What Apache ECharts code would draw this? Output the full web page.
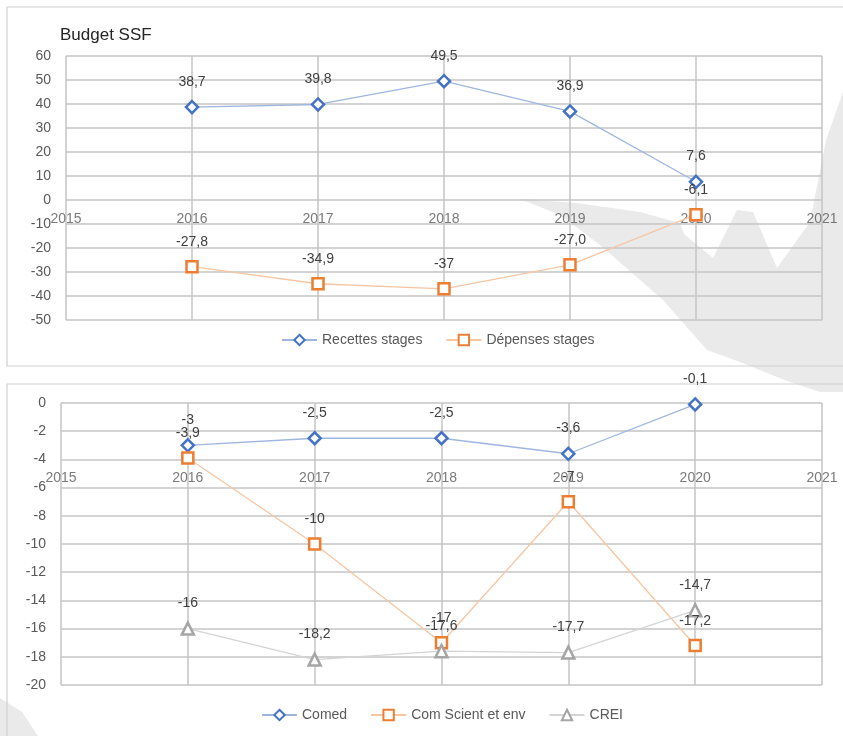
<!DOCTYPE html>
<html>
<head>
<meta charset="utf-8">
<script src="https://cdn.jsdelivr.net/npm/echarts@6/dist/echarts.min.js"></script>
<style>
html,body{margin:0;padding:0;background:#fff;}
#c{width:843px;height:736px;}
</style>
</head>
<body>
<div id="c"></div>
<script>
// ---- data ----
const years = [2016, 2017, 2018, 2019, 2020];
const xTicks = [2015, 2016, 2017, 2018, 2019, 2020, 2021];
const topAxisCross = 0;      // value where the top chart's year axis crosses
const bottomAxisCross = -4;  // value where the bottom chart's year axis crosses

const recettesStages = [38.7, 39.8, 49.5, 36.9, 7.6];
const recettesLabels = ['38,7', '39,8', '49,5', '36,9', '7,6'];
const depensesStages = [-27.8, -34.9, -37, -27.0, -6.1];
const depensesLabels = ['-27,8', '-34,9', '-37', '-27,0', '-6,1'];

const comed = [-3, -2.5, -2.5, -3.6, -0.1];
const comedLabels = ['-3', '-2,5', '-2,5', '-3,6', '-0,1'];
const comScient = [-3.9, -10, -17, -7, -17.2];
const comScientLabels = ['-3,9', '-10', '-17', '-7', '-17,2'];
const crei = [-16, -18.2, -17.6, -17.7, -14.7];
const creiLabels = ['-16', '-18,2', '-17,6', '-17,7', '-14,7'];

const topTitle = 'Budget SSF';
const topNames = ['Recettes stages', 'Dépenses stages'];
const bottomNames = ['Comed', 'Com Scient et env', 'CREI'];

// ---- helpers ----
const FONT = '"Liberation Sans", Arial, sans-serif';
const GRID_C = '#c4c4c4';
const LABEL_C = '#595959';
const pairs = arr => years.map((y, i) => [y, arr[i]]);

function mkSeries(name, vals, texts, symbol, color, lineColor, xi, yi, size) {
  return {
    name: name, type: 'line', xAxisIndex: xi, yAxisIndex: yi,
    data: pairs(vals),
    symbol: symbol, symbolSize: size, showAllSymbol: true,
    itemStyle: { color: '#fff', borderColor: color, borderWidth: 2.5 },
    lineStyle: { color: lineColor, width: 1.3 },
    label: {
      show: true, position: 'top', distance: 11,
      color: '#404040', fontSize: 14, fontFamily: FONT,
      formatter: p => texts[p.dataIndex]
    },
    emphasis: { disabled: true },
    animation: false, z: 3
  };
}
function yearLabels(xi, yi, cross) {
  return {
    type: 'scatter', xAxisIndex: xi, yAxisIndex: yi, silent: true,
    data: xTicks.map(t => [t, cross]),
    symbolSize: 0,
    label: { show: true, position: 'bottom', distance: 12, color: LABEL_C, fontSize: 14, fontFamily: FONT,
      formatter: p => String(p.value[0]) },
    emphasis: { disabled: true }, animation: false, z: 2
  };
}

const diamond = 'path://M0,-1 L1,0 L0,1 L-1,0 Z';
const BLUE = '#4472C4', BLUE_L = '#9fb6e0';
const ORANGE = '#ED7D31', ORANGE_L = '#f6c6a4';
const GREY = '#A5A5A5', GREY_L = '#d4d4d4';

function xAxisCfg(gridIndex) {
  return {
    type: 'value', gridIndex: gridIndex, min: 2015, max: 2021, interval: 1,
    axisLine: { show: false },
    axisTick: { show: false },
    axisLabel: { show: false },
    splitLine: { show: true, lineStyle: { color: GRID_C, width: 1.5 } }
  };
}
function yAxisCfg(gridIndex, min, max, interval) {
  return {
    type: 'value', gridIndex: gridIndex, min: min, max: max, interval: interval,
    axisLine: { show: false }, axisTick: { show: false },
    axisLabel: { color: LABEL_C, fontSize: 14, fontFamily: FONT, margin: 15 },
    splitLine: { show: true, lineStyle: { color: GRID_C, width: 1.5 } }
  };
}

const WM = '#eaeaea';
const chart = echarts.init(document.getElementById('c'), null, { renderer: 'canvas' });
chart.setOption({
  backgroundColor: '#ffffff',
  animation: false,
  title: {
    text: topTitle, left: 55, top: 22,
    textStyle: { fontFamily: FONT, fontSize: 17, fontWeight: 'normal', color: '#262626' }
  },
  graphic: [
    { type: 'polygon', z: -20, silent: true,
      shape: { points: [[520,199],[577,203],[640,212],[680,223],[684,234],[713,258],[737,210],[753,212],[777,268],[810,222],[826,140],[843,92],
                        [843,392],[820,392],[787,381],[740,362],[707,350],[663,300],[600,245],[560,215]] },
      style: { fill: WM } },
    { type: 'polygon', z: -20, silent: true,
      shape: { points: [[0,698],[22,712],[38,736],[0,736]] },
      style: { fill: WM } },
    { type: 'rect', z: -10, silent: true, shape: { x: 7, y: 7, width: 860, height: 359 },
      style: { fill: 'none', stroke: '#d0d0d0', lineWidth: 1.2 } },
    { type: 'rect', z: -10, silent: true, shape: { x: 7, y: 384, width: 860, height: 400 },
      style: { fill: 'none', stroke: '#d0d0d0', lineWidth: 1.2 } }
  ],
  legend: [
    { data: topNames, left: 276, top: 328, itemWidth: 35, itemHeight: 13, itemGap: 23,
      textStyle: { color: LABEL_C, fontSize: 14, fontFamily: FONT } },
    { data: bottomNames, left: 256, top: 703, itemWidth: 35, itemHeight: 13, itemGap: 23,
      textStyle: { color: LABEL_C, fontSize: 14, fontFamily: FONT } }
  ],
  grid: [
    { left: 66, top: 56, width: 756, height: 264 },
    { left: 61, top: 403, width: 761, height: 282 }
  ],
  xAxis: [ xAxisCfg(0), xAxisCfg(1) ],
  yAxis: [
    yAxisCfg(0, -50, 60, 10),
    yAxisCfg(1, -20, 0, 2)
  ],
  series: [
    yearLabels(0, 0, topAxisCross),
    yearLabels(1, 1, bottomAxisCross),
    mkSeries(topNames[0], recettesStages, recettesLabels, diamond, BLUE, BLUE_L, 0, 0, 12),
    mkSeries(topNames[1], depensesStages, depensesLabels, 'rect', ORANGE, ORANGE_L, 0, 0, 11),
    mkSeries(bottomNames[0], comed, comedLabels, diamond, BLUE, BLUE_L, 1, 1, 12),
    mkSeries(bottomNames[1], comScient, comScientLabels, 'rect', ORANGE, ORANGE_L, 1, 1, 11),
    mkSeries(bottomNames[2], crei, creiLabels, 'triangle', GREY, GREY_L, 1, 1, 12)
  ]
});
</script>
</body>
</html>
